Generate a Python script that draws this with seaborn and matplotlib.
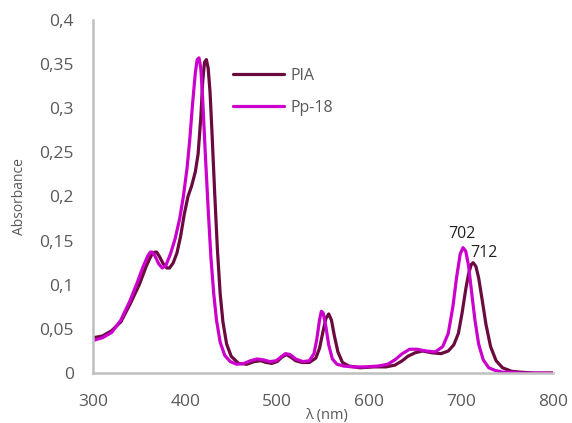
import pandas as pd
import seaborn as sns
import matplotlib.pyplot as plt
from matplotlib.ticker import FuncFormatter

# wavelengths (nm) and absorbance
pia_x = [300, 310, 320, 330, 340, 350, 358, 363, 367, 369, 372, 376, 380, 383, 387, 391, 395, 399, 403,
         407, 411, 414, 417, 419, 421, 423, 425, 427, 429, 432, 435, 438, 441, 445, 450, 458, 467, 475,
         482, 488, 494, 500, 505, 510, 515, 520, 527, 535, 542, 546, 550, 553, 556, 559, 562, 566, 571,
         578, 590, 605, 618, 628, 636, 642, 650, 658, 668, 678, 686, 692, 697, 701, 705, 708, 711, 713,
         716, 719, 723, 727, 732, 738, 745, 755, 765, 780, 800]
pia_y = [0.040, 0.042, 0.048, 0.058, 0.078, 0.100, 0.122, 0.133, 0.137, 0.137, 0.132, 0.124, 0.119, 0.119,
         0.125, 0.136, 0.155, 0.180, 0.200, 0.212, 0.228, 0.248, 0.290, 0.330, 0.352, 0.355, 0.345, 0.318,
         0.275, 0.205, 0.140, 0.090, 0.058, 0.033, 0.019, 0.011, 0.010, 0.013, 0.014, 0.012, 0.011, 0.013,
         0.018, 0.021, 0.018, 0.014, 0.012, 0.012, 0.017, 0.028, 0.048, 0.062, 0.067, 0.060, 0.043, 0.024,
         0.012, 0.008, 0.006, 0.007, 0.007, 0.009, 0.014, 0.019, 0.023, 0.025, 0.023, 0.022, 0.025, 0.032,
         0.045, 0.068, 0.095, 0.112, 0.123, 0.125, 0.121, 0.108, 0.082, 0.055, 0.030, 0.014, 0.006, 0.002,
         0.001, 0.000, 0.000]

pp_x = [300, 310, 320, 330, 340, 348, 354, 359, 362, 364, 367, 371, 375, 379, 384, 389, 394, 398, 402,
        405, 408, 411, 413, 415, 417, 419, 422, 425, 428, 431, 434, 438, 443, 449, 456, 464, 471, 478,
        485, 492, 499, 505, 509, 514, 520, 528, 535, 540, 543, 546, 548, 550, 553, 556, 560, 565, 572,
        582, 595, 610, 620, 628, 636, 644, 652, 662, 672, 680, 686, 691, 695, 699, 702, 705, 708, 711,
        715, 719, 724, 730, 737, 745, 755, 765, 780, 800]
pp_y = [0.037, 0.040, 0.046, 0.060, 0.082, 0.103, 0.120, 0.132, 0.137, 0.137, 0.133, 0.124, 0.119, 0.122,
        0.135, 0.152, 0.175, 0.200, 0.232, 0.265, 0.305, 0.340, 0.355, 0.357, 0.345, 0.310, 0.245, 0.185,
        0.130, 0.090, 0.060, 0.035, 0.020, 0.013, 0.010, 0.011, 0.014, 0.016, 0.015, 0.013, 0.014, 0.019,
        0.022, 0.021, 0.016, 0.013, 0.014, 0.022, 0.038, 0.060, 0.070, 0.068, 0.052, 0.032, 0.016, 0.010,
        0.008, 0.007, 0.007, 0.008, 0.010, 0.015, 0.022, 0.027, 0.027, 0.025, 0.024, 0.030, 0.045, 0.075,
        0.108, 0.135, 0.142, 0.138, 0.122, 0.095, 0.060, 0.033, 0.015, 0.006, 0.003, 0.001, 0.001, 0.000,
        0.000, 0.000]

labels = [("702", 701, 0.148), ("712", 725, 0.127)]

pia = pd.DataFrame({"x": pia_x, "y": pia_y})
pp = pd.DataFrame({"x": pp_x, "y": pp_y})

sns.set_style("white")
plt.rcParams["font.family"] = ["Open Sans", "DejaVu Sans"]

fig = plt.figure(figsize=(5.72, 4.23), dpi=100)
ax = fig.add_axes([0.163, 0.118, 0.804, 0.835])

sns.lineplot(data=pia, x="x", y="y", ax=ax, color="#6A0A3F", lw=2.3, label="PIA", sort=False,
             solid_joinstyle="round")
sns.lineplot(data=pp, x="x", y="y", ax=ax, color="#CC00CC", lw=2.3, label="Pp-18", sort=False,
             solid_joinstyle="round")

for txt, lx, ly in labels:
    ax.text(lx, ly, txt, ha="center", va="bottom", fontsize=11.5, color="#222222")

ax.set_xlim(300, 800)
ax.set_ylim(0, 0.4)
ax.set_xticks(range(300, 801, 100))
ax.set_yticks([i * 0.05 for i in range(9)])
ax.yaxis.set_major_formatter(FuncFormatter(lambda v, p: ("%g" % round(v, 2)).replace(".", ",")))
ax.tick_params(axis="y", length=4, width=1.5, color="#BFBFBF", labelsize=12.5, labelcolor="#595959", pad=10)
ax.tick_params(axis="x", length=0, labelsize=12.5, labelcolor="#595959", pad=15)

for s in ["top", "right"]:
    ax.spines[s].set_visible(False)
for s in ["left", "bottom"]:
    ax.spines[s].set_color("#BFBFBF")
    ax.spines[s].set_linewidth(1.8)

ax.set_xlabel("λ (nm)", fontsize=10.5, color="#595959")
ax.xaxis.set_label_coords(0.507, -0.1)
ax.set_ylabel("Absorbance", fontsize=10, color="#595959")
ax.yaxis.set_label_coords(-0.145, 0.5)

ax.legend(loc="upper left", bbox_to_anchor=(0.272, 0.905), frameon=False, fontsize=11.5,
          handlelength=3.2, labelspacing=1.0, handletextpad=0.4, labelcolor="#595959")

fig.savefig("out.png", dpi=100)
